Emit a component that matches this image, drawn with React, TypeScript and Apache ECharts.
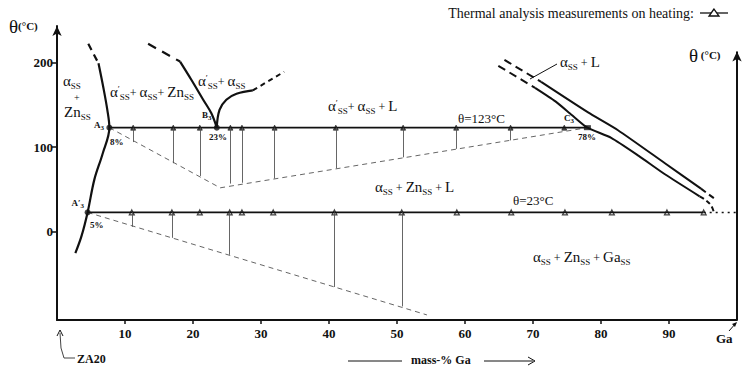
import React, { useEffect, useRef } from 'react';
import * as echarts from 'echarts';

const SERIF = 'Liberation Serif';

// axis ticks
const xTicks = [10, 20, 30, 40, 50, 60, 70, 80, 90];
const yTicks = [0, 100, 200];

// isotherms (°C)
const T_HIGH = 123;
const T_LOW = 23;

// invariant points
const A3 = [7.7, 123];
const B3 = [23.5, 123];
const C3 = [78, 123];
const A3p = [4.5, 23];

// thermal analysis measurements (mass-% Ga) on each isotherm
const highPts = [11.2, 17.1, 21, 25.5, 27.2, 32, 41, 50.9, 58.7, 66.7, 74.6];
const lowPts = [11, 16.9, 21, 25.4, 27.2, 31.8, 40.8, 50.7, 58.8, 66.8, 74.7, 81.6, 89.7, 95.1];

// vertical construction lines (x, lower end temperature)
const highVertX = [11.2, 17.1, 21, 25.5, 27.2, 32, 41, 50.9, 58.7, 66.7];
const highVertLow = [106, 81, 66, 57, 58, 63, 75, 88, 98, 108];
const lowVertX = [11, 16.9, 25.4, 40.8, 50.7];
const lowVertLow = [6, -7, -27, -65, -88];

// Tammann construction (dashed)
const highConstruct = [[7.7, 123], [24, 52], [78, 123]];
const lowConstruct = [[4.5, 23], [54.4, -98]];
const lowTail = [[95.1, 23], [100, 23]];

// phase boundaries
const leftDash = [[4.6, 222], [6.1, 199]];
const leftSolid = [[6.1, 199], [6.8, 171], [7.4, 144], [7.7, 123], [6.7, 92], [5.5, 62], [4.5, 23], [3.6, -5], [2.7, -25]];
const bLeftDash = [[13.4, 222], [18.1, 201]];
const bLeftSolid = [[18.1, 201], [19.8, 179], [21.5, 156], [22.7, 140], [23.5, 123]];
const bRightSolid = [[23.5, 123], [23.9, 144], [24.9, 156], [26.4, 163], [28.8, 167]];
const bRightDash = [[28.8, 167], [33.4, 189]];
const liqUpDash = [[65.8, 203], [71.2, 177]];
const liqUpSolid = [[71.2, 177], [78.1, 141], [82.5, 120], [89.4, 81], [94.7, 51]];
const liqUpTail = [[94.7, 51], [96.9, 38]];
const liqLoDash = [[64.9, 196], [70.3, 170]];
const liqLoSolid = [[70.3, 170], [73.3, 154], [75.7, 138], [78, 123], [81.5, 111], [85.5, 90], [89.4, 68], [94.5, 42]];
const liqLoTail = [[94.5, 42], [95.3, 38], [96.2, 31], [96.6, 23]];

const rich: any = {
  m: { fontFamily: SERIF, fontSize: 15, lineHeight: 15, verticalAlign: 'top', fill: '#111' },
  s: { fontFamily: SERIF, fontSize: 9, padding: [8, 0, 0, 0], verticalAlign: 'top', fill: '#111' },
  o: { fontFamily: SERIF, fontSize: 12, padding: [2, 0, 0, 0], verticalAlign: 'top', fill: '#111' },
  p: { fontFamily: SERIF, fontSize: 9, verticalAlign: 'top', fill: '#111' },
  b: { fontFamily: SERIF, fontSize: 9, fontWeight: 'bold', verticalAlign: 'top', fill: '#111' },
  bs: { fontFamily: SERIF, fontSize: 7, fontWeight: 'bold', padding: [4, 0, 0, 0], verticalAlign: 'top', fill: '#111' },
};

function rt(text: string, x: number, y: number, align = 'left') {
  return {
    type: 'text', x, y, silent: true,
    style: { text, rich, align, verticalAlign: 'middle', fontFamily: SERIF, fill: '#111' },
  };
}
function pt(text: string, x: number, y: number, size = 13, weight = 'normal', align = 'left') {
  return {
    type: 'text', x, y, silent: true,
    style: { text, fontFamily: SERIF, fontSize: size, fontWeight: weight, fill: '#111', align, verticalAlign: 'middle' },
  };
}

function line(data: number[][], width: number, type: any = 'solid', color = '#111', smooth: number | boolean = false) {
  return {
    type: 'line', data, showSymbol: false, smooth, clip: false, silent: true,
    lineStyle: { color, width, type },
  };
}

export default function App() {
  const ref = useRef<HTMLDivElement>(null);
  useEffect(() => {
    const chart = echarts.init(ref.current!, null, { renderer: 'svg' });
    const highLine = [A3, ...highPts.map((x) => [x, T_HIGH]), C3].sort((a, b) => a[0] - b[0]);
    const lowLine = [A3p, ...lowPts.map((x) => [x, T_LOW])].sort((a, b) => a[0] - b[0]);
    const axisText = { color: '#111', fontFamily: SERIF, fontWeight: 'bold', fontSize: 13 };
    chart.setOption({
      animation: false,
      backgroundColor: '#fff',
      grid: { left: 57, right: 5, top: 26, bottom: 52, containLabel: false },
      xAxis: {
        type: 'value', min: 0, max: 100, interval: 10,
        axisLine: { onZero: false, lineStyle: { color: '#111', width: 2 } },
        axisTick: { customValues: xTicks, length: 4, lineStyle: { color: '#111', width: 1.5 } },
        axisLabel: { customValues: xTicks, margin: 7, ...axisText },
        splitLine: { show: false },
      },
      yAxis: {
        type: 'value', min: -104, max: 243,
        axisLine: { show: true, onZero: false, symbol: ['none', 'arrow'], symbolSize: [7, 10], lineStyle: { color: '#111', width: 2 } },
        axisTick: { show: true, customValues: yTicks, length: 5, lineStyle: { color: '#111', width: 1.5 } },
        axisLabel: { customValues: yTicks, margin: 4, ...axisText },
        splitLine: { show: false },
      },
      series: [
        // construction lines
        line(highConstruct, 0.9, [5, 4], '#555'),
        line(lowConstruct, 0.9, [5, 4], '#555'),
        {
          type: 'line', data: lowTail, showSymbol: false, silent: true, clip: false,
          lineStyle: { color: '#111', width: 1.5, type: [2, 4] },
          markLine: {
            silent: true, symbol: 'none', label: { show: false },
            lineStyle: { color: '#555', width: 0.9, type: 'solid' },
            data: [
              ...highVertX.map((x, i) => [{ coord: [x, T_HIGH] }, { coord: [x, highVertLow[i]] }]),
              ...lowVertX.map((x, i) => [{ coord: [x, T_LOW] }, { coord: [x, lowVertLow[i]] }]),
            ],
          },
        },
        {
          type: 'line', data: [[100, -104], [100, -104]], showSymbol: false, silent: true, clip: false,
          lineStyle: { width: 0 },
          markLine: {
            silent: true, symbol: ['none', 'arrow'], symbolSize: [7, 10], label: { show: false },
            lineStyle: { color: '#111', width: 2, type: 'solid' },
            data: [[{ coord: [100, -104] }, { coord: [100, 213] }]],
          },
        },
        // isotherms
        line(highLine, 1.6),
        line(lowLine, 1.6),
        // phase boundaries
        line(leftDash, 2.2, [7, 5]),
        line(leftSolid, 2.2, 'solid', '#111', 0.35),
        line(bLeftDash, 2.2, [9, 7]),
        line(bLeftSolid, 2.2, 'solid', '#111', 0.35),
        line(bRightSolid, 2.2, 'solid', '#111', 0.4),
        line(bRightDash, 2, [5, 4]),
        line(liqUpDash, 2, [8, 5]),
        line(liqUpSolid, 2, 'solid', '#111', 0.2),
        line(liqUpTail, 2, [6, 4]),
        line(liqLoDash, 2, [8, 5]),
        line(liqLoSolid, 2, 'solid', '#111', 0.2),
        line(liqLoTail, 2, [5, 3], '#111', 0.4),
        // measurement markers
        {
          type: 'scatter', data: highPts.map((x) => [x, T_HIGH]), symbol: 'triangle', symbolSize: 5, silent: true,
          itemStyle: { color: '#222', borderColor: '#111', borderWidth: 0.8 },
        },
        {
          type: 'scatter', data: lowPts.map((x) => [x, T_LOW]), symbol: 'triangle', symbolSize: 5, silent: true,
          itemStyle: { color: '#fff', borderColor: '#111', borderWidth: 1.2 },
        },
        {
          type: 'scatter', data: [A3, B3, A3p], symbol: 'circle', symbolSize: 6, silent: true,
          itemStyle: { color: '#111' },
        },
        {
          type: 'scatter', data: [C3], symbol: 'rect', symbolSize: [7, 5], silent: true,
          itemStyle: { color: '#111' },
        },
      ],
      graphic: [
        // axis titles
        { type: 'text', x: 9, y: 26, silent: true, style: { text: '{t|θ}{u|(°C)}', verticalAlign: 'middle', rich: { t: { fontFamily: SERIF, fontSize: 19, fill: '#111', verticalAlign: 'middle' }, u: { fontFamily: SERIF, fontSize: 11, fontWeight: 'bold', fill: '#111', verticalAlign: 'middle' } } } },
        { type: 'text', x: 689, y: 55, silent: true, style: { text: '{t|θ}{u| (°C)}', verticalAlign: 'middle', rich: { t: { fontFamily: SERIF, fontSize: 19, fill: '#111', verticalAlign: 'middle' }, u: { fontFamily: SERIF, fontSize: 11, fontWeight: 'bold', fill: '#111', verticalAlign: 'middle' } } } },
        // legend
        pt('Thermal analysis measurements on heating:', 694, 13, 14, 'normal', 'right'),
        { type: 'line', silent: true, shape: { x1: 700, y1: 13, x2: 728, y2: 13 }, style: { stroke: '#111', lineWidth: 1.3 } },
        { type: 'polygon', silent: true, shape: { points: [[714, 9], [709, 16], [719, 16]] }, style: { fill: '#fff', stroke: '#111', lineWidth: 1.3 } },
        // phase labels
        rt('{m|α}{s|SS}', 63, 82),
        pt('+', 74, 97, 10),
        rt('{m|Zn}{s|SS}', 64, 113),
        rt("{m|α}{p|ʹ}{s|SS}{o|+ }{m|α}{s|SS}{o|+ }{m|Zn}{s|SS}", 110, 93),
        rt("{m|α}{p|ʹ}{s|SS}{o|+ }{m|α}{s|SS}", 198, 82),
        rt("{m|α}{p|ʹ}{s|SS}{o|+ }{m|α}{s|SS}{o| + }{m|L}", 328, 107),
        rt('{m|α}{s|SS}{o| + }{m|Zn}{s|SS}{o| + }{m|L}', 375, 188),
        rt('{m|α}{s|SS}{o| + }{m|Zn}{s|SS}{o| + }{m|Ga}{s|SS}', 533, 258),
        rt('{m|α}{s|SS}{o| + }{m|L}', 560, 63),
        { type: 'line', silent: true, shape: { x1: 557, y1: 64, x2: 530, y2: 79 }, style: { stroke: '#111', lineWidth: 1 } },
        pt('θ=123°C', 458, 118, 13),
        pt('θ=23°C', 513, 200, 13),
        // invariant point labels
        rt('{b|A}{bs|3}', 104, 126, 'right'),
        pt('8%', 110, 142, 9, 'bold'),
        rt('{b|B}{bs|3}', 202, 116),
        pt('23%', 209, 137, 9, 'bold'),
        rt('{b|C}{bs|3}', 564, 119),
        pt('78%', 578, 137, 9, 'bold'),
        rt('{b|Aʹ}{bs|3}', 84, 204, 'right'),
        pt('5%', 90, 225, 9, 'bold'),
        // x-axis annotations
        pt('Ga', 716, 338, 13, 'bold'),
        { type: 'line', silent: true, shape: { x1: 729, y1: 331, x2: 736, y2: 323 }, style: { stroke: '#111', lineWidth: 1 } },
        { type: 'polygon', silent: true, shape: { points: [[737, 322], [732, 324], [735, 327]] }, style: { fill: '#111' } },
        pt('ZA20', 77, 359, 12, 'bold'),
        { type: 'polyline', silent: true, shape: { points: [[60, 333], [61, 348], [64, 358], [75, 358]] }, style: { stroke: '#444', lineWidth: 1, fill: null } },
        { type: 'polyline', silent: true, shape: { points: [[57, 336], [60, 330], [63, 336]] }, style: { stroke: '#111', lineWidth: 1, fill: null } },
        { type: 'line', silent: true, shape: { x1: 348, y1: 361, x2: 402, y2: 361 }, style: { stroke: '#111', lineWidth: 1 } },
        pt('mass-% Ga', 411, 360, 12, 'bold'),
        { type: 'line', silent: true, shape: { x1: 484, y1: 361, x2: 533, y2: 361 }, style: { stroke: '#111', lineWidth: 1 } },
        { type: 'polyline', silent: true, shape: { points: [[528, 357], [535, 361], [528, 365]] }, style: { stroke: '#111', lineWidth: 1, fill: null } },
      ],
    });
    return () => chart.dispose();
  }, []);
  return <div ref={ref} style={{ position: 'fixed', left: 0, top: 0, width: 742, height: 372, background: '#fff' }} />;
}
